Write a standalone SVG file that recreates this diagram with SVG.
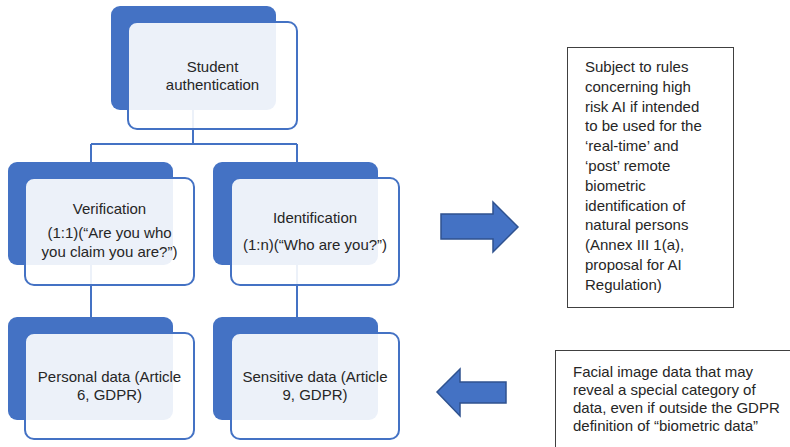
<svg xmlns="http://www.w3.org/2000/svg" width="790" height="447" viewBox="0 0 790 447">
<style>
.back{fill:#4472c4;}
.front{fill:#ffffff;fill-opacity:0.9;stroke:#4472c4;stroke-width:2;}
.t{font-family:"Liberation Sans",Arial,sans-serif;font-size:15px;fill:#262626;}
.c{text-anchor:middle;}
.conn{stroke:#4472c4;stroke-width:2;fill:none;}
.arrow{fill:#4472c4;stroke:#2f528f;stroke-width:1.5;}
.box{fill:#ffffff;stroke:#404040;stroke-width:1;}
</style>
<rect width="790" height="447" fill="#ffffff"/>
<g id="connectors">
<path class="conn" d="M193 110V144M91 144H297M91 144V162M297 144V162M91 265V317M297 265V317"/>
</g>
<g id="node-student">
<rect class="back" x="111" y="6" width="165" height="104" rx="9"/>
<rect class="front" x="128" y="22" width="169" height="107" rx="9"/>
<text class="t c" x="212.5" y="72">Student</text>
<text class="t c" x="212.5" y="90">authentication</text>
</g>
<g id="node-verification">
<rect class="back" x="8" y="162" width="165" height="103" rx="9"/>
<rect class="front" x="25" y="178" width="169" height="107" rx="9"/>
<text class="t c" x="109.5" y="214">Verification</text>
<text class="t c" x="109.5" y="238">(1:1)(“Are you who</text>
<text class="t c" x="109.5" y="257">you claim you are?”)</text>
</g>
<g id="node-identification">
<rect class="back" x="213" y="162" width="165" height="103" rx="9"/>
<rect class="front" x="231" y="178" width="168" height="107" rx="9"/>
<text class="t c" x="315" y="223">Identification</text>
<text class="t c" x="315" y="250">(1:n)(“Who are you?”)</text>
</g>
<g id="node-personal">
<rect class="back" x="8" y="317" width="165" height="103" rx="9"/>
<rect class="front" x="25" y="333" width="169" height="106" rx="9"/>
<text class="t c" x="109.5" y="382">Personal data (Article</text>
<text class="t c" x="109.5" y="400">6, GDPR)</text>
</g>
<g id="node-sensitive">
<rect class="back" x="213" y="317" width="165" height="103" rx="9"/>
<rect class="front" x="231" y="333" width="168" height="106" rx="9"/>
<text class="t c" x="315" y="382">Sensitive data (Article</text>
<text class="t c" x="315" y="400">9, GDPR)</text>
</g>
<g id="arrow-right">
<polygon class="arrow" points="441,214 493,214 493,202 518,227 493,252 493,239 441,239"/>
</g>
<g id="arrow-left">
<polygon class="arrow" points="506,382 460,382 460,369 437,392 460,416 460,403 506,403"/>
</g>
<g id="box-ai">
<rect class="box" x="567.5" y="47.5" width="166" height="260"/>
<text class="t" x="585" y="72">Subject to rules</text>
<text class="t" x="585" y="91.8">concerning high</text>
<text class="t" x="585" y="111.6">risk AI if intended</text>
<text class="t" x="585" y="131.4">to be used for the</text>
<text class="t" x="585" y="151.2">‘real-time’ and</text>
<text class="t" x="585" y="171">‘post’ remote</text>
<text class="t" x="585" y="190.8">biometric</text>
<text class="t" x="585" y="210.6">identification of</text>
<text class="t" x="585" y="230.4">natural persons</text>
<text class="t" x="585" y="250.2">(Annex III 1(a),</text>
<text class="t" x="585" y="270">proposal for AI</text>
<text class="t" x="585" y="289.8">Regulation)</text>
</g>
<g id="box-facial">
<rect class="box" x="555.5" y="350.5" width="250" height="120"/>
<text class="t" x="573" y="377">Facial image data that may</text>
<text class="t" x="573" y="395">reveal a special category of</text>
<text class="t" x="573" y="413">data, even if outside the GDPR</text>
<text class="t" x="573" y="431">definition of “biometric data”</text>
</g>
</svg>
